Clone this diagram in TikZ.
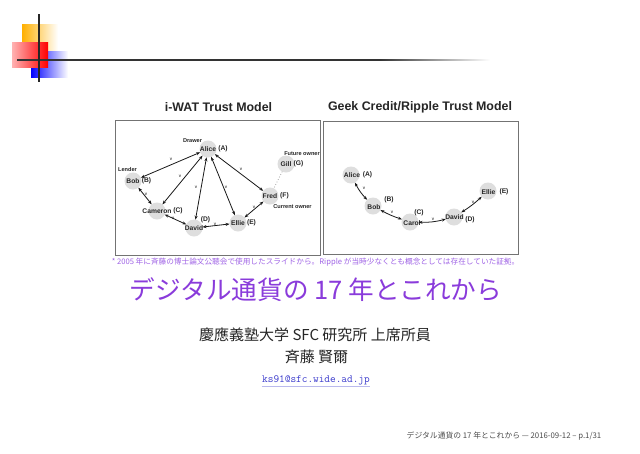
\documentclass[tikz,border=0pt]{standalone}
\usepackage{fontspec}
\setmainfont{Liberation Sans}
\newfontfamily\jp{Noto Sans CJK JP}
\usetikzlibrary{arrows.meta}
\definecolor{ttlc}{HTML}{8A3BDB}
\definecolor{capc}{HTML}{A064E6}
\definecolor{mailc}{HTML}{3A3ACC}
\definecolor{orng}{HTML}{FFB000}
\begin{document}
\begin{tikzpicture}[x=1pt,y=-1pt,
  pc/.style={circle, fill=black!13, minimum size=17pt, inner sep=0pt, outer sep=0pt},
  nm/.style={font=\fontsize{6.7}{7}\selectfont\bfseries, inner sep=0pt, text=black!85},
  sm/.style={font=\fontsize{5.6}{6}\selectfont\bfseries, inner sep=0pt, text=black!85},
  vl/.style={font=\fontsize{4.5}{5}\selectfont, inner sep=0pt},
  tr/.style={{Stealth[length=4pt,width=3pt]}-{Stealth[length=4pt,width=3pt]}, line width=0.8pt, black!90},
  panel/.style={draw=black!55, line width=1pt},
  ptitle/.style={font=\fontsize{12.4}{14}\selectfont\bfseries, inner sep=0pt, text=black!85}
]
\useasboundingbox[fill=white] (0,0) rectangle (640,453);

% logo
\shade[left color=orng, right color=white] (22,24) rectangle (58,51);
\shade[left color=blue, right color=white] (31,51) rectangle (68,77);
\shade[left color=red!30!white, right color=red] (12,42) rectangle (48,67);
\fill[black!80] (17,59.4) rectangle (380,60.6);
\shade[left color=black!80, right color=white] (380,59.4) rectangle (490,60.6);
\draw[black!85, line width=1.3pt] (39,14) -- (39,82);

% panels
\node[ptitle] (t1) at (218.5,107) {i-WAT Trust Model};
\node[ptitle] (t2) at (420,107) {Geek Credit/Ripple Trust Model};
\draw[panel] (115,120) rectangle (320,255);
\draw[panel] (323,121) rectangle (518,254);

% left panel nodes
\node[pc] (A) at (208,149) {};
\node[pc] (B) at (133,181) {};
\node[pc] (C) at (157,211) {};
\node[pc] (D) at (194,228) {};
\node[pc] (E) at (238,223) {};
\node[pc] (F) at (270,196) {};
\node[pc] (G) at (286,164) {};
\node[nm] (An) at (A) {Alice};
\node[nm] (Bn) at (B) {Bob};
\node[nm] (Cn) at (C) {Cameron};
\node[nm] (Dn) at (D) {David};
\node[nm] (En) at (E) {Ellie};
\node[nm] (Fn) at (F) {Fred};
\node[nm] (Gn) at (G) {Gill};
\node[nm] (Ax) at (223,149) {(A)};
\node[nm] (Bx) at (146.5,181) {(B)};
\node[nm] (Cx) at (178,211) {(C)};
\node[nm] (Dx) at (205.5,220) {(D)};
\node[nm] (Ex) at (251.5,223) {(E)};
\node[nm] (Fx) at (284.5,196) {(F)};
\node[nm] (Gx) at (298.5,164) {(G)};
\node[sm] (drw) at (192.5,141) {Drawer};
\node[sm] (lnd) at (127.5,169) {Lender};
\node[sm] (fut) at (302,154) {Future owner};
\node[sm] (cur) at (292.5,207) {Current owner};

\draw[tr] (A) -- (B);
\draw[tr] (A) -- (C);
\draw[tr] (A) -- (D);
\draw[tr] (A) -- (E);
\draw[tr] (A) -- (F);
\draw[tr] (B) -- (C);
\draw[tr] (C) -- (D);
\draw[tr] (D) -- (E);
\draw[tr] (E) -- (F);
\draw[black!35, dotted, line width=0.8pt] (G) -- (F);

\node[vl] at (171,159) {v};
\node[vl] at (180,176) {v};
\node[vl] at (196,187) {v};
\node[vl] at (226,187) {v};
\node[vl] at (241,169) {v};
\node[vl] at (146,194) {v};
\node[vl] at (173,218) {v};
\node[vl] at (215,224) {v};
\node[vl] at (254,207) {v};

% right panel nodes
\node[pc] (RA) at (351,175) {};
\node[pc] (RB) at (373,206) {};
\node[pc] (RC) at (410,222) {};
\node[pc] (RD) at (454,217) {};
\node[pc] (RE) at (488,191) {};
\node[nm] at (352,175) {Alice};
\node[nm] at (374,207) {Bob};
\node[nm] at (412,223) {Carol};
\node[nm] at (454.5,217) {David};
\node[nm] at (488.5,192) {Ellie};
\node[nm] at (367.5,175) {(A)};
\node[nm] at (389,200) {(B)};
\node[nm] at (419,213) {(C)};
\node[nm] at (470,220) {(D)};
\node[nm] at (504,192) {(E)};

\draw[tr] (RA) to[bend right=8] (RB);
\draw[tr] (RB) to[bend right=5] (RC);
\draw[tr] (RC) to[bend right=8] (RD);
\draw[tr] (RD) to[bend right=5] (RE);
\node[vl] at (364,188) {v};
\node[vl] at (392,212) {v};
\node[vl] at (433,219) {v};
\node[vl] at (473,202) {v};

% caption
\node[inner sep=0pt, text=capc, font=\jp\fontsize{7.65}{8}\selectfont] (cap) at (315.5,262.5)
  {* 2005 年に斉藤の博士論文公聴会で使用したスライドから。Ripple が当時少なくとも概念としては存在していた証拠。};

% title
\node[inner sep=0pt, text=ttlc, font=\jp\fontsize{25.6}{28}\selectfont] (ttl) at (316,290)
  {デジタル通貨の 17 年とこれから};
\node[inner sep=0pt, text=black!85, font=\jp\fontsize{15}{17}\selectfont] (aff) at (315,335)
  {慶應義塾大学 SFC 研究所 上席所員};
\node[inner sep=0pt, text=black!85, font=\jp\fontsize{15}{17}\selectfont] (who) at (316.5,357)
  {斉藤 賢爾};
\node[inner sep=0pt, text=mailc, font=\ttfamily\fontsize{11}{12}\selectfont] (mail) at (316,380)
  {ks91@sfc.wide.ad.jp};
\draw[mailc!35, line width=0.8pt] ([yshift=-2pt]mail.south west) -- ([yshift=-2pt]mail.south east);

% footer
\node[inner sep=0pt, text=black!70, font=\jp\fontsize{7.8}{8}\selectfont] (foot) at (504,436)
  {デジタル通貨の 17 年とこれから — 2016-09-12 – p.1/31};
\end{tikzpicture}
\end{document}
